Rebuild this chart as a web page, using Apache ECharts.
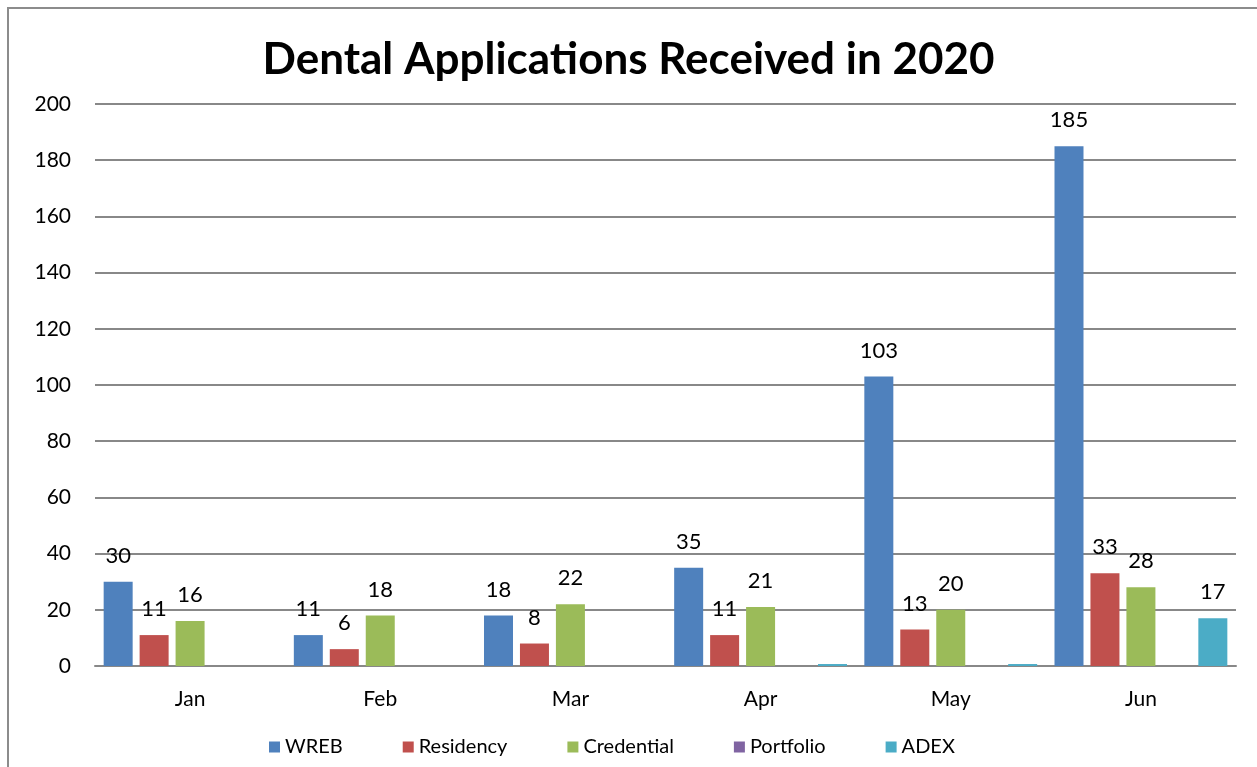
<!DOCTYPE html>
<html><head><meta charset="utf-8">
<script src="https://cdn.jsdelivr.net/npm/echarts@6/dist/echarts.min.js"></script>
<style>html,body{margin:0;padding:0;background:#fff}#c{width:1257px;height:767px}</style>
</head><body><div id="c"></div>
<script>
const categories = ['Jan','Feb','Mar','Apr','May','Jun'];
const wreb = [30, 11, 18, 35, 103, 185];
const residency = [11, 6, 8, 11, 13, 33];
const credential = [16, 18, 22, 21, 20, 28];
const portfolio = [0, 0, 0, 0, 0, 0];
const adex = [0, 0, 0, 0.7, 0.7, 17];
const yTicks = [0, 20, 40, 60, 80, 100, 120, 140, 160, 180, 200];

const font = 'Lato, "Open Sans", sans-serif';
const names = ['WREB','Residency','Credential','Portfolio','ADEX'];
const colors = ['#4F81BD','#C0504D','#9BBB59','#8064A2','#4BACC6'];
const datas = [wreb, residency, credential, portfolio, adex];

const chart = echarts.init(document.getElementById('c'));
chart.setOption({
  animation: false,
  title: { text: 'Dental Applications Received in 2020', left: 'center', top: 33,
    textStyle: { fontFamily: font, fontWeight: 'bold', fontSize: 44, color: '#000' } },
  graphic: [{ type: 'rect', shape: { x: 8, y: 8, width: 1300, height: 800 },
    style: { fill: 'none', stroke: '#8c8c8c', lineWidth: 2 }, silent: true }],
  grid: { left: 95, right: 21, top: 104, bottom: 101 },
  legend: { bottom: 5, left: 264, itemWidth: 11, itemHeight: 11, itemGap: 60,
    icon: 'rect', textStyle: { fontFamily: font, fontSize: 20, color: '#000' } },
  xAxis: { type: 'category', data: categories,
    axisLine: { lineStyle: { color: '#888', width: 2 } }, axisTick: { show: false },
    axisLabel: { fontFamily: font, fontSize: 21, color: '#000', margin: 23 } },
  yAxis: { type: 'value', min: 0, max: 200, interval: 20,
    axisLine: { show: false }, axisTick: { show: false },
    splitLine: { lineStyle: { color: '#888', width: 2 } },
    axisLabel: { fontFamily: font, fontSize: 21, color: '#000', margin: 24,
      formatter: v => yTicks.includes(v) ? String(v) : '' } },
  series: names.map((n, i) => ({
    name: n, type: 'bar', data: datas[i], barWidth: 29, barGap: '24%',
    itemStyle: { color: colors[i] },
    label: { show: true, position: 'top', distance: 15, fontFamily: font, fontSize: 22, color: '#000',
      formatter: p => p.value >= 1 ? String(p.value) : '' }
  }))
});
</script></body></html>
